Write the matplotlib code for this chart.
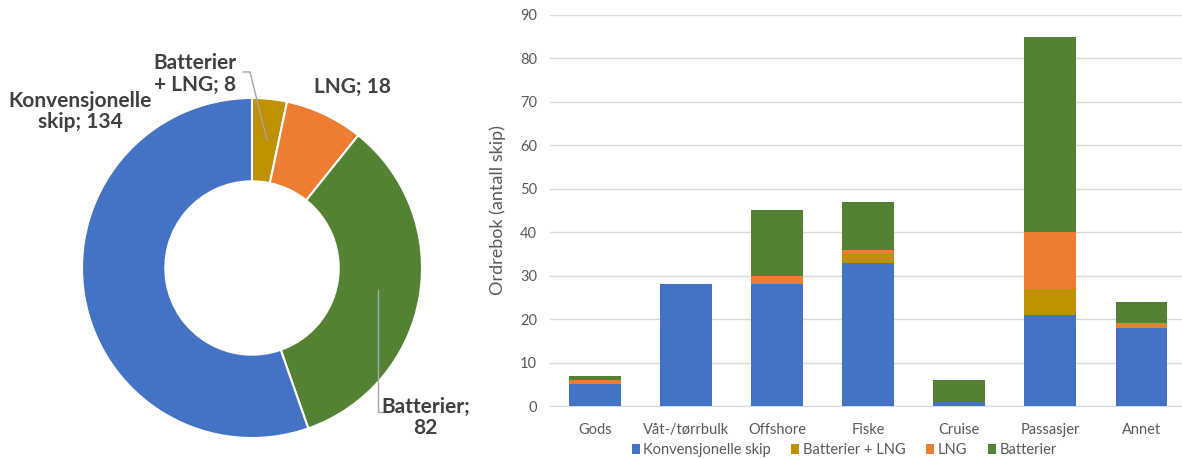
import matplotlib
matplotlib.use("Agg")
import matplotlib.pyplot as plt
import numpy as np

plt.rcParams['font.family'] = ['Lato', 'DejaVu Sans']

# Fleet composition (pie)
pie_labels = ["Batterier\n+ LNG", "LNG", "Batterier", "Konvensjonelle\nskip"]
pie_values = [8, 18, 82, 134]

# Order book per segment (stacked bars)
categories = ["Gods", "Våt-/tørrbulk", "Offshore", "Fiske", "Cruise", "Passasjer", "Annet"]
series_names = ["Konvensjonelle skip", "Batterier + LNG", "LNG", "Batterier"]
konvensjonelle = [5, 28, 28, 33, 1, 21, 18]
batterier_lng = [0, 0, 0, 2, 0, 6, 0]
lng = [1, 0, 2, 1, 0, 13, 1]
batterier = [1, 0, 15, 11, 5, 45, 5]
y_ticks = [0, 10, 20, 30, 40, 50, 60, 70, 80, 90]

BLUE = "#4472C4"
GOLD = "#BF9000"
ORANGE = "#ED7D31"
GREEN = "#548235"
TEXT = "#404040"
TICK = "#595959"

W, H = 1182, 459
fig = plt.figure(figsize=(W / 100, H / 100), dpi=100)

# ---- donut ----
cx, cy, R = 252, 268, 170
ax_pie = fig.add_axes([(cx - R) / W, 1 - (cy + R) / H, 2 * R / W, 2 * R / H])
ax_pie.pie(pie_values, colors=[GOLD, ORANGE, GREEN, BLUE], startangle=90,
           counterclock=False, radius=1,
           wedgeprops=dict(width=0.49, edgecolor="white", linewidth=1.5))
ax_pie.set_xlim(-1, 1)
ax_pie.set_ylim(-1, 1)
ax_pie.set_aspect("equal")
ax_pie.axis("off")

lbl_kw = dict(fontsize=15, fontweight="bold", color=TEXT, ha="center",
              va="center", linespacing=1.1, clip_on=False)
label_pos = [(-0.335, 1.14), (0.59, 1.065), (1.02, -0.88), (-1.01, 0.92)]
for name, val, (lx, ly) in zip(pie_labels, pie_values, label_pos):
    if name == "Batterier":
        txt = f"{name};\n{val}"
    else:
        txt = f"{name}; {val}"
    ax_pie.text(lx, ly, txt, **lbl_kw)

# leader lines
ax_pie.plot([-0.053, -0.012, 0.088], [1.153, 1.153, 0.753], color="#A6A6A6",
            lw=1, clip_on=False)
ax_pie.plot([0.741, 0.741, 0.80], [-0.129, -0.847, -0.847], color="#A6A6A6",
            lw=1, clip_on=False)

# ---- stacked bars ----
left_px, right_px, top_px, base_px = 549.5, 1187, 15, 406
ax = fig.add_axes([left_px / W, 1 - base_px / H, (right_px - left_px) / W,
                   (base_px - top_px) / H])
x = np.arange(len(categories))
bw = 0.57
bottom = np.zeros(len(categories))
for name, vals, col in zip(series_names,
                           [konvensjonelle, batterier_lng, lng, batterier],
                           [BLUE, GOLD, ORANGE, GREEN]):
    ax.bar(x, vals, bw, bottom=bottom, color=col, label=name, zorder=3)
    bottom += np.array(vals)

ax.set_xlim(-0.5, len(categories) - 0.5)
ax.set_ylim(0, 90)
ax.set_yticks(y_ticks)
ax.set_xticks(x)
ax.set_xticklabels(categories)
ax.yaxis.grid(True, color="#D9D9D9", lw=1, zorder=0)
for s in ["top", "right", "left"]:
    ax.spines[s].set_visible(False)
ax.spines["bottom"].set_color("#D9D9D9")
ax.tick_params(axis="both", length=0, labelsize=10.5, colors=TICK)
ax.tick_params(axis="y", pad=9)
ax.tick_params(axis="x", pad=12)
ax.set_ylabel("Ordrebok (antall skip)", fontsize=13, color=TICK, labelpad=10)

leg = ax.legend(loc="center", bbox_to_anchor=(0.462, -0.113), ncol=4,
                frameon=False, fontsize=10.5, handlelength=0.55,
                handleheight=0.7, handletextpad=0.25, columnspacing=1.4,
                borderpad=0.1)
for t in leg.get_texts():
    t.set_color(TICK)

fig.savefig("out.png", dpi=100)
